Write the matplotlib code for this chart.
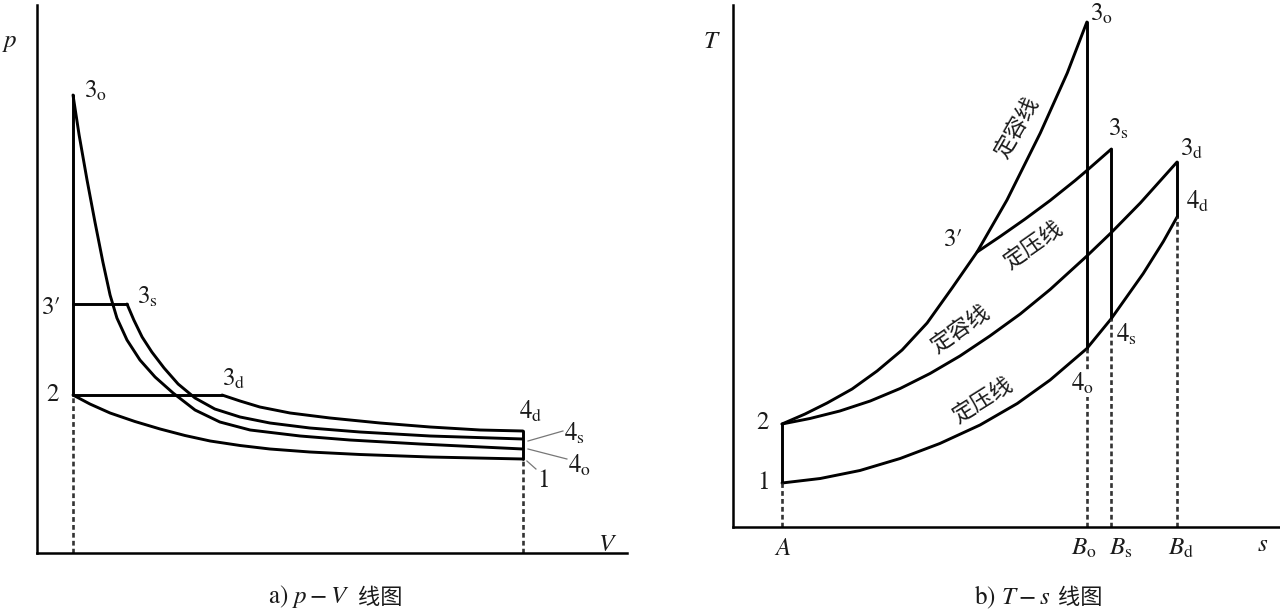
import matplotlib
matplotlib.use("Agg")
import matplotlib.pyplot as plt

plt.rcParams['mathtext.fontset'] = 'stix'
plt.rcParams['font.family'] = ['STIXGeneral', 'Noto Sans CJK SC', 'DejaVu Sans']

# ---------------- p-V diagram data (arbitrary units) ----------------
V2, V1 = 1.0, 13.5
p2, p3p, p3o = 3.16, 4.98, 9.16
V3s, V3d = 2.5, 5.14
p4d, p4s, p4o, p1 = 2.44, 2.28, 2.08, 1.88

# Otto expansion 3o -> 4o
exp_o_V = [1.0, 1.17, 1.39, 1.61, 1.83, 2.03, 2.22, 2.5, 2.86, 3.28, 3.78, 4.39, 5.08, 5.92, 7.31, 8.69, 10.64, 13.5]
exp_o_p = [9.16, 8.36, 7.46, 6.62, 5.82, 5.16, 4.70, 4.26, 3.86, 3.52, 3.20, 2.86, 2.62, 2.46, 2.34, 2.26, 2.18, 2.08]
# mixed expansion 3s -> 4s
exp_s_V = [2.5, 2.69, 2.92, 3.19, 3.53, 3.92, 4.39, 4.94, 5.64, 6.47, 7.58, 8.97, 10.92, 13.5]
exp_s_p = [4.98, 4.66, 4.32, 4.02, 3.70, 3.38, 3.10, 2.88, 2.72, 2.60, 2.50, 2.42, 2.34, 2.28]
# diesel expansion 3d -> 4d
exp_d_V = [5.14, 5.64, 6.19, 7.03, 8.14, 9.53, 10.92, 12.31, 13.5]
exp_d_p = [3.16, 3.04, 2.92, 2.80, 2.70, 2.60, 2.52, 2.46, 2.44]
# compression 2 -> 1
comp_V = [1.0, 1.47, 2.03, 2.72, 3.42, 4.11, 4.81, 5.64, 6.47, 7.58, 8.97, 10.92, 13.5]
comp_p = [3.16, 2.98, 2.80, 2.63, 2.48, 2.35, 2.24, 2.15, 2.08, 2.02, 1.97, 1.92, 1.88]

# ---------------- T-s diagram data (arbitrary units) ----------------
sA, sBo, sBs, sBd = 1.0, 7.22, 7.72, 9.06
T1, T2, T3o, T3s, T3d, T4d, T4s, T4o = 0.88, 2.06, 10.10, 7.56, 7.30, 6.20, 4.17, 3.57

# constant volume 2 -> 3' -> 3o
cv_up_s = [1.0, 1.47, 1.92, 2.43, 2.94, 3.45, 3.96, 4.47, 4.98, 5.59, 6.27, 6.82, 7.22]
cv_up_T = [2.06, 2.26, 2.48, 2.76, 3.12, 3.54, 4.08, 4.78, 5.50, 6.54, 7.88, 9.08, 10.10]
# constant pressure 3' -> 3s
cp_mix_s = [4.98, 5.45, 5.96, 6.47, 6.98, 7.22, 7.72]
cp_mix_T = [5.50, 5.81, 6.16, 6.53, 6.93, 7.13, 7.56]
# constant pressure 2 -> 3d
cp_up_s = [1.0, 1.57, 2.18, 2.80, 3.41, 4.02, 4.63, 5.24, 5.86, 6.47, 7.22, 7.72, 8.31, 9.06]
cp_up_T = [2.06, 2.17, 2.32, 2.52, 2.77, 3.07, 3.42, 3.82, 4.26, 4.75, 5.42, 5.89, 6.48, 7.30]
# constant volume 1 -> 4o -> 4s -> 4d
cv_lo_s = [1.0, 1.78, 2.59, 3.41, 4.22, 5.04, 5.80, 6.47, 7.22, 7.72, 8.37, 8.78, 9.06]
cv_lo_T = [0.88, 0.97, 1.13, 1.37, 1.67, 2.04, 2.47, 2.94, 3.57, 4.17, 5.07, 5.71, 6.20]

LW = 2.1
K = 'black'
TXT = '#1a1a1a'
DASH = dict(color='#333333', lw=1.9, linestyle=(0, (1.8, 1.2)))

fig = plt.figure(figsize=(12.8, 6.13), dpi=100)
ax1 = fig.add_axes([37/1280, 60/613, 590/1280, 548/613])
ax2 = fig.add_axes([733/1280, 86/613, 547/1280, 522/613])

for ax in (ax1, ax2):
    ax.spines['top'].set_visible(False)
    ax.spines['right'].set_visible(False)
    ax.spines['left'].set_linewidth(1.8)
    ax.spines['bottom'].set_linewidth(1.8)
    ax.set_xticks([])
    ax.set_yticks([])
    ax.patch.set_alpha(0)

ax1.set_xlim(0, 16.39)
ax1.set_ylim(0, 10.96)
ax2.set_xlim(0, 11.16)
ax2.set_ylim(0, 10.44)

lk = dict(color=K, lw=LW, solid_joinstyle='round', solid_capstyle='round')

# ---- p-V ----
ax1.plot([V2, V2], [p2, p3o], **lk)
ax1.plot([V2, V3s], [p3p, p3p], **lk)
ax1.plot([V2, V3d], [p2, p2], **lk)
ax1.plot(exp_o_V, exp_o_p, **lk)
ax1.plot(exp_s_V, exp_s_p, **lk)
ax1.plot(exp_d_V, exp_d_p, **lk)
ax1.plot(comp_V, comp_p, **lk)
ax1.plot([V1, V1], [p1, p4d], **lk)
ax1.plot([V2, V2], [0, p2], **DASH)
ax1.plot([V1, V1], [0, p1], **DASH)

fs = 18
t1 = dict(fontsize=fs, color=TXT, clip_on=False)
tp = dict(fontsize=fs, color=TXT, clip_on=False, family=['STIXGeneral', 'DejaVu Serif'])
ax1.text(-0.75, 10.22, r'$p$', ha='center', va='center', **t1)
ax1.text(15.86, 0.16, r'$V$', ha='center', va='center', **t1)
ax1.text(1.30, 9.22, r'$3_{\mathrm{o}}$', ha='left', va='center', **t1)
ax1.text(0.42, 4.90, '3\u2032', ha='center', va='center', **tp)
ax1.text(0.44, 3.16, r'$2$', ha='center', va='center', **t1)
ax1.text(2.78, 5.10, r'$3_{\mathrm{s}}$', ha='left', va='center', **t1)
ax1.text(5.14, 3.46, r'$3_{\mathrm{d}}$', ha='left', va='center', **t1)
ax1.text(13.40, 2.82, r'$4_{\mathrm{d}}$', ha='left', va='center', **t1)
ax1.text(14.65, 2.38, r'$4_{\mathrm{s}}$', ha='left', va='center', **t1)
ax1.text(14.76, 1.74, r'$4_{\mathrm{o}}$', ha='left', va='center', **t1)
ax1.text(14.06, 1.44, r'$1$', ha='center', va='center', **t1)
lead = dict(color='#777777', lw=0.9)
ax1.plot([13.64, 14.61], [2.24, 2.44], **lead)
ax1.plot([13.64, 14.72], [2.08, 1.88], **lead)
ax1.plot([13.61, 13.86], [1.84, 1.68], **lead)

# ---- T-s ----
ax2.plot([sA, sA], [T1, T2], **lk)
ax2.plot(cv_up_s, cv_up_T, **lk)
ax2.plot(cp_mix_s, cp_mix_T, **lk)
ax2.plot(cp_up_s, cp_up_T, **lk)
ax2.plot(cv_lo_s, cv_lo_T, **lk)
ax2.plot([sBo, sBo], [T4o, T3o], **lk)
ax2.plot([sBs, sBs], [T4s, T3s], **lk)
ax2.plot([sBd, sBd], [T4d, T3d], **lk)
ax2.plot([sA, sA], [0, T1], **DASH)
ax2.plot([sBo, sBo], [0, T4o], **DASH)
ax2.plot([sBs, sBs], [0, T4s], **DASH)
ax2.plot([sBd, sBd], [0, T4d], **DASH)

ax2.text(-0.43, 9.70, r'$T$', ha='center', va='center', **t1)
ax2.text(10.80, -0.36, r'$s$', ha='center', va='center', **t1)
ax2.text(1.02, -0.44, r'$A$', ha='center', va='center', **t1)
ax2.text(7.16, -0.44, r'$B_{\mathrm{o}}$', ha='center', va='center', **t1)
ax2.text(7.92, -0.44, r'$B_{\mathrm{s}}$', ha='center', va='center', **t1)
ax2.text(9.14, -0.44, r'$B_{\mathrm{d}}$', ha='center', va='center', **t1)
ax2.text(0.61, 0.88, r'$1$', ha='center', va='center', **t1)
ax2.text(0.61, 2.08, r'$2$', ha='center', va='center', **t1)
ax2.text(4.50, 5.74, '3\u2032', ha='center', va='center', **tp)
ax2.text(7.29, 10.24, r'$3_{\mathrm{o}}$', ha='left', va='center', **t1)
ax2.text(7.65, 7.94, r'$3_{\mathrm{s}}$', ha='left', va='center', **t1)
ax2.text(9.12, 7.54, r'$3_{\mathrm{d}}$', ha='left', va='center', **t1)
ax2.text(9.24, 6.50, r'$4_{\mathrm{d}}$', ha='left', va='center', **t1)
ax2.text(7.82, 3.84, r'$4_{\mathrm{s}}$', ha='left', va='center', **t1)
ax2.text(7.14, 2.86, r'$4_{\mathrm{o}}$', ha='center', va='center', zorder=5,
         bbox=dict(facecolor='white', edgecolor='none', pad=0.5), **t1)

cn = dict(fontsize=16, color=TXT, ha='center', va='center',
          family=['Noto Sans CJK SC', 'DejaVu Sans'], rotation_mode='anchor')
ax2.text(5.80, 7.98, '定容线', rotation=60, **cn)
ax2.text(6.12, 5.62, '定压线', rotation=35, **cn)
ax2.text(4.63, 3.94, '定容线', rotation=35, **cn)
ax2.text(5.10, 2.52, '定压线', rotation=32, **cn)

cap = dict(fontsize=18, color=TXT, va='center')
cap_cn = dict(fontsize=16, color=TXT, va='center', ha='left',
              family=['Noto Sans CJK SC', 'DejaVu Sans'])
fig.text(350/1280, 16/613, r'a) $p - V$', ha='right', **cap)
fig.text(358/1280, 16/613, '线图', **cap_cn)
fig.text(1050/1280, 16/613, r'b) $T - s$', ha='right', **cap)
fig.text(1058/1280, 16/613, '线图', **cap_cn)

fig.savefig('out.png', dpi=100)
